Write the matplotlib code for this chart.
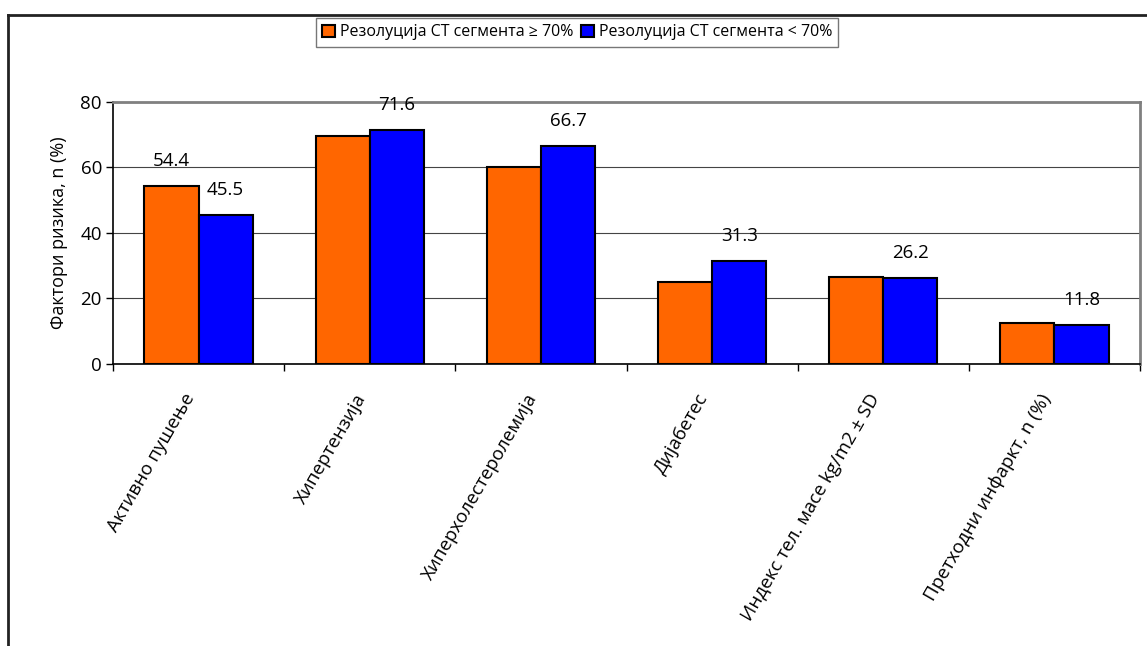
import matplotlib.pyplot as plt
from matplotlib.lines import Line2D
import numpy as np

plt.rcParams['font.family'] = ['Open Sans', 'DejaVu Sans']

# risk factors and the two groups
categories = ['Активно пушење', 'Хипертензија', 'Хиперхолестеролемија',
              'Дијабетес', 'Индекс тел. масе kg/m2 ± SD', 'Претходни инфаркт, n (%)']
series_names = ['Резолуција СТ сегмента ≥ 70%', 'Резолуција СТ сегмента < 70%']
high_res = [54.4, 69.7, 60.2, 24.9, 26.5, 12.6]
low_res = [45.5, 71.6, 66.7, 31.3, 26.2, 11.8]
# which bars carry a value label
high_labels = ['54.4', None, None, None, None, None]
low_labels = ['45.5', '71.6', '66.7', '31.3', '26.2', '11.8']

fig = plt.figure(figsize=(11.47, 6.46), dpi=100)
ax = fig.add_axes([113 / 1147, 1 - 364 / 646, (1140 - 113) / 1147, (364 - 102) / 646])

x = np.arange(len(categories))
w = 0.316
b1 = ax.bar(x - w / 2, high_res, w, color='#FF6600', edgecolor='black', linewidth=1.5,
            label=series_names[0], zorder=3)
b2 = ax.bar(x + w / 2, low_res, w, color='#0000FF', edgecolor='black', linewidth=1.5,
            label=series_names[1], zorder=3)

for bars, labels in ((b1, high_labels), (b2, low_labels)):
    for rect, lab in zip(bars, labels):
        if lab is None:
            continue
        ax.annotate(lab, (rect.get_x() + rect.get_width() / 2, rect.get_height()),
                    xytext=(0, 18), textcoords='offset points',
                    ha='center', va='center', fontsize=13.5)

ax.set_xlim(-0.5, len(categories) - 0.5)
ax.set_ylim(0, 80)
ax.set_yticks([0, 20, 40, 60, 80])
ax.tick_params(axis='y', labelsize=13.5, length=5, width=1, pad=3)
ax.yaxis.grid(True, color='#444444', linewidth=0.8, zorder=0)

# ticks between categories, labels at category centres
ax.set_xticks(np.arange(len(categories) + 1) - 0.5)
ax.set_xticklabels([])
ax.tick_params(axis='x', which='major', length=5, width=1)
ax.set_xticks(x, minor=True)
ax.set_xticklabels(categories, minor=True, rotation=60, ha='right', va='top', fontsize=13.5)
ax.tick_params(axis='x', which='minor', length=0, pad=19)

ax.set_ylabel('Фактори ризика, n (%)', fontsize=13, labelpad=9)

for side in ('left', 'bottom'):
    ax.spines[side].set_color('black')
    ax.spines[side].set_linewidth(1.2)
for side in ('top', 'right'):
    ax.spines[side].set_color('#808080')
    ax.spines[side].set_linewidth(2)

fig.legend(loc='upper center', bbox_to_anchor=(577 / 1147, 1 - 18 / 646), ncol=2,
           fontsize=11.5, frameon=True, fancybox=False, edgecolor='#555555',
           handlelength=0.8, handleheight=0.8, handletextpad=0.3,
           columnspacing=0.5, borderpad=0.4, borderaxespad=0)

# chart border
fig.add_artist(Line2D([8 / 1147, 8 / 1147], [0, 1 - 15 / 646], transform=fig.transFigure,
                      color='#222222', linewidth=2))
fig.add_artist(Line2D([8 / 1147, 1], [1 - 15 / 646, 1 - 15 / 646], transform=fig.transFigure,
                      color='#222222', linewidth=2))

fig.savefig('out.png', dpi=100)
